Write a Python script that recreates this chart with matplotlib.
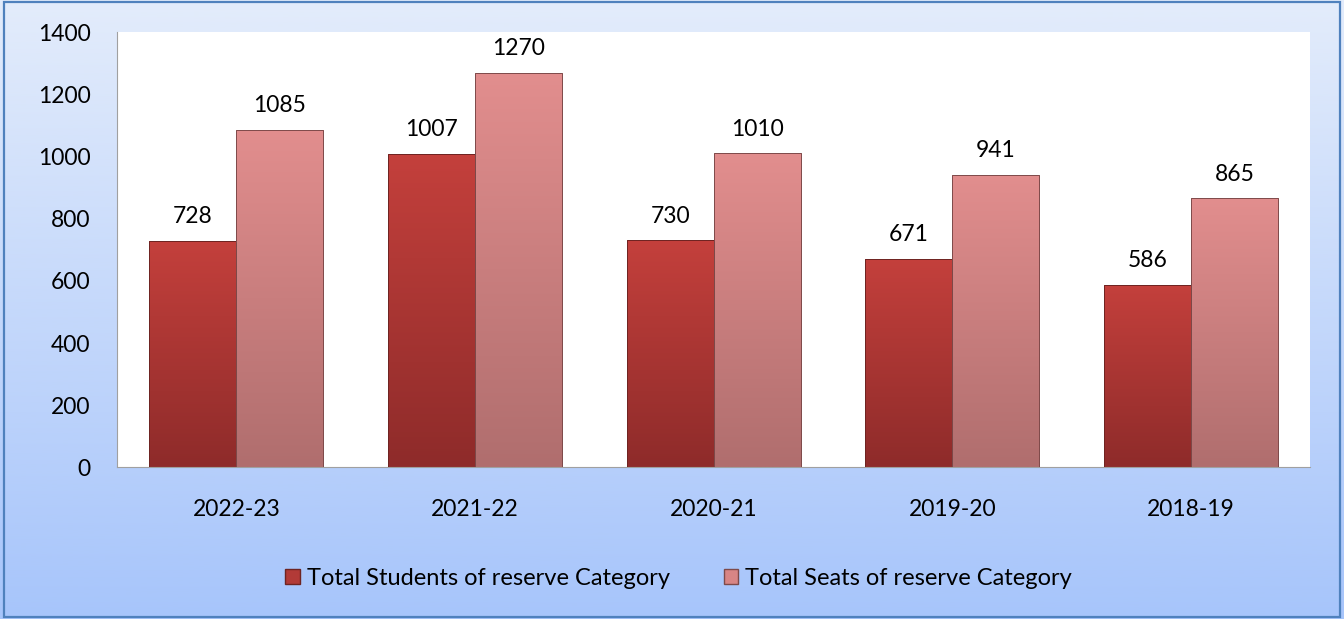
import numpy as np
import matplotlib
matplotlib.use("Agg")
import matplotlib.pyplot as plt
from matplotlib.colors import LinearSegmentedColormap
from matplotlib.patches import Patch

years = ["2022-23", "2021-22", "2020-21", "2019-20", "2018-19"]
students = [728, 1007, 730, 671, 586]
seats = [1085, 1270, 1010, 941, 865]
series_names = ["Total Students of reserve Category", "Total Seats of reserve Category"]

plt.rcParams['font.family'] = ['Lato', 'DejaVu Sans']

fig = plt.figure(figsize=(13.44, 6.19), dpi=100)

# background gradient of the chart area
bg = fig.add_axes([0, 0, 1, 1], zorder=-10)
bg_cmap = LinearSegmentedColormap.from_list("bg", ["#e3ecfb", "#a7c5fb"])
bg.imshow(np.linspace(0, 1, 256).reshape(-1, 1), aspect="auto", cmap=bg_cmap,
          extent=[0, 1, 0, 1], origin="upper")
bg.set_xlim(0, 1)
bg.set_ylim(0, 1)
bg.axis("off")
bg.add_patch(plt.Rectangle((0.003, 0.004), 0.994, 0.992, fill=False,
                           edgecolor="#4f81bd", lw=1.6, transform=bg.transAxes))

ax = fig.add_axes([0.087, 0.245, 0.888, 0.703])
x = np.arange(len(years))
w = 0.365

dark_cmap = LinearSegmentedColormap.from_list("dark", ["#c4403c", "#8e2b2a"])
light_cmap = LinearSegmentedColormap.from_list("light", ["#e28e8e", "#b06e6e"])

b1 = ax.bar(x - w / 2, students, w, color="#b23a37", edgecolor="#6e2422", lw=0.7)
b2 = ax.bar(x + w / 2, seats, w, color="#d88585", edgecolor="#7e4a4a", lw=0.7)

grad = np.linspace(0, 1, 256).reshape(-1, 1)
for bars, cmap in ((b1, dark_cmap), (b2, light_cmap)):
    for bar in bars:
        x0, y0 = bar.get_x(), bar.get_y()
        bw, bh = bar.get_width(), bar.get_height()
        im = ax.imshow(grad, aspect="auto", cmap=cmap, origin="upper",
                       extent=[x0, x0 + bw, y0, y0 + bh], zorder=2)
        im.set_clip_path(bar)
        bar.set_zorder(3)
        bar.set_facecolor("none")

for bars in (b1, b2):
    for bar in bars:
        ax.annotate(f"{int(bar.get_height())}",
                    (bar.get_x() + bar.get_width() / 2, bar.get_height()),
                    xytext=(0, 10), textcoords="offset points",
                    ha="center", va="bottom", fontsize=16.5, color="black")

ax.set_xlim(-0.5, len(years) - 0.5)
ax.set_ylim(0, 1400)
ax.set_yticks(range(0, 1401, 200))
ax.set_xticks(x)
ax.set_xticklabels(years)
ax.tick_params(axis="both", length=0, labelsize=16.5, colors="black")
ax.tick_params(axis="x", pad=23)
ax.tick_params(axis="y", pad=19)
for s in ("top", "right"):
    ax.spines[s].set_visible(False)
for s in ("left", "bottom"):
    ax.spines[s].set_color("#a0a0a0")
ax.set_facecolor("white")

handles = [Patch(facecolor="#b23a37", edgecolor="#6e2422"),
           Patch(facecolor="#d88585", edgecolor="#7e4a4a")]
fig.legend(handles, series_names, loc="center", bbox_to_anchor=(0.505, 0.066),
           ncol=2, frameon=False, fontsize=17, handlelength=0.6, handleheight=0.6,
           handletextpad=0.3, columnspacing=2.3)

fig.savefig("out.png", dpi=100)
